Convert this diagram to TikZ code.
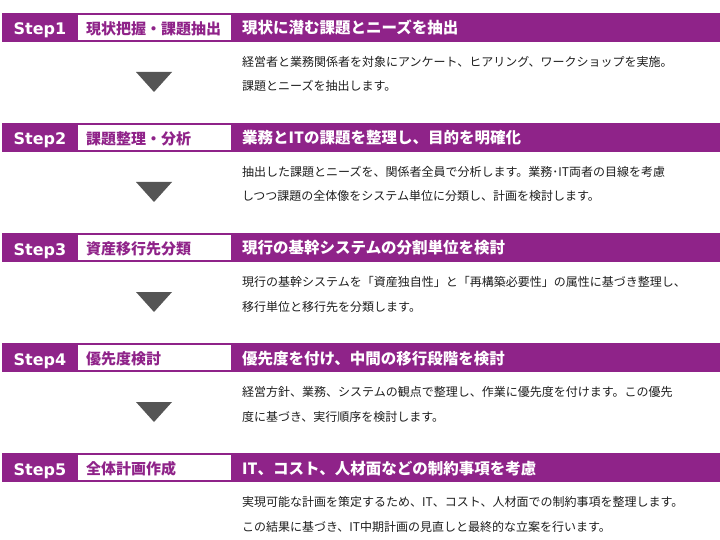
\documentclass[tikz,border=0pt]{standalone}
\usepackage{fontspec}
\setmainfont{Noto Sans CJK JP}
\newfontfamily\stepfont{DejaVu Sans}
\usetikzlibrary{positioning}
\definecolor{stepcol}{HTML}{8F2389}
\definecolor{arrowgray}{HTML}{555555}
\definecolor{desctext}{HTML}{1E1E1E}
\tikzset{
  stepbar/.style={fill=stepcol, anchor=north west, minimum width=718pt, minimum height=29pt, inner sep=0pt},
  stepno/.style={anchor=base, inner sep=0pt, text=white, font=\stepfont\bfseries\fontsize{16}{16}\selectfont},
  stepname/.style={fill=white, anchor=west, minimum height=25pt, text width=137pt, inner xsep=8pt, inner ysep=0pt, text height=14pt, text depth=0pt, align=left, text=stepcol, font=\bfseries\fontsize{15}{15}\selectfont},
  steptitle/.style={anchor=base west, inner sep=0pt, text=white, font=\bfseries\fontsize{15.5}{15.5}\selectfont},
  stepdesc/.style={anchor=base west, inner sep=0pt, align=left, text=desctext, font=\fontsize{12}{24.5}\selectfont},
  steparrow/.style={fill=arrowgray}
}
\begin{document}
\begin{tikzpicture}[x=1pt,y=-1pt]
\useasboundingbox (0,0) rectangle (720,540);
% Step1
\node[stepbar] (B1) at (2,13) {};
\node[stepno] (S1) at (40,35) {Step1};
\node[stepname] (N1) at (78,27.5) {現状把握・課題抽出};
\node[steptitle] (T1) at (242,34) {現状に潜む課題とニーズを抽出};
\node[stepdesc] (D1) at (242,91) {経営者と業務関係者を対象にアンケート、ヒアリング、ワークショップを実施。\\課題とニーズを抽出します。};
\fill[steparrow] (136,72) -- (172,72) -- (154,92) -- cycle;
% Step2
\node[stepbar] (B2) at (2,123) {};
\node[stepno] (S2) at (40,145) {Step2};
\node[stepname] (N2) at (78,137.5) {課題整理・分析};
\node[steptitle] (T2) at (242,144) {業務とITの課題を整理し、目的を明確化};
\node[stepdesc] (D2) at (242,201) {抽出した課題とニーズを、関係者全員で分析します。業務･IT両者の目線を考慮\\しつつ課題の全体像をシステム単位に分類し、計画を検討します。};
\fill[steparrow] (136,182) -- (172,182) -- (154,202) -- cycle;
% Step3
\node[stepbar] (B3) at (2,233) {};
\node[stepno] (S3) at (40,255) {Step3};
\node[stepname] (N3) at (78,247.5) {資産移行先分類};
\node[steptitle] (T3) at (242,254) {現行の基幹システムの分割単位を検討};
\node[stepdesc] (D3) at (242,311) {現行の基幹システムを「資産独自性」と「再構築必要性」の属性に基づき整理し、\\移行単位と移行先を分類します。};
\fill[steparrow] (136,292) -- (172,292) -- (154,312) -- cycle;
% Step4
\node[stepbar] (B4) at (2,343) {};
\node[stepno] (S4) at (40,365) {Step4};
\node[stepname] (N4) at (78,357.5) {優先度検討};
\node[steptitle] (T4) at (242,364) {優先度を付け、中間の移行段階を検討};
\node[stepdesc] (D4) at (242,421) {経営方針、業務、システムの観点で整理し、作業に優先度を付けます。この優先\\度に基づき、実行順序を検討します。};
\fill[steparrow] (136,402) -- (172,402) -- (154,422) -- cycle;
% Step5
\node[stepbar] (B5) at (2,453) {};
\node[stepno] (S5) at (40,475) {Step5};
\node[stepname] (N5) at (78,467.5) {全体計画作成};
\node[steptitle] (T5) at (242,474) {IT、コスト、人材面などの制約事項を考慮};
\node[stepdesc] (D5) at (242,531) {実現可能な計画を策定するため、IT、コスト、人材面での制約事項を整理します。\\この結果に基づき、IT中期計画の見直しと最終的な立案を行います。};
\end{tikzpicture}
\end{document}
